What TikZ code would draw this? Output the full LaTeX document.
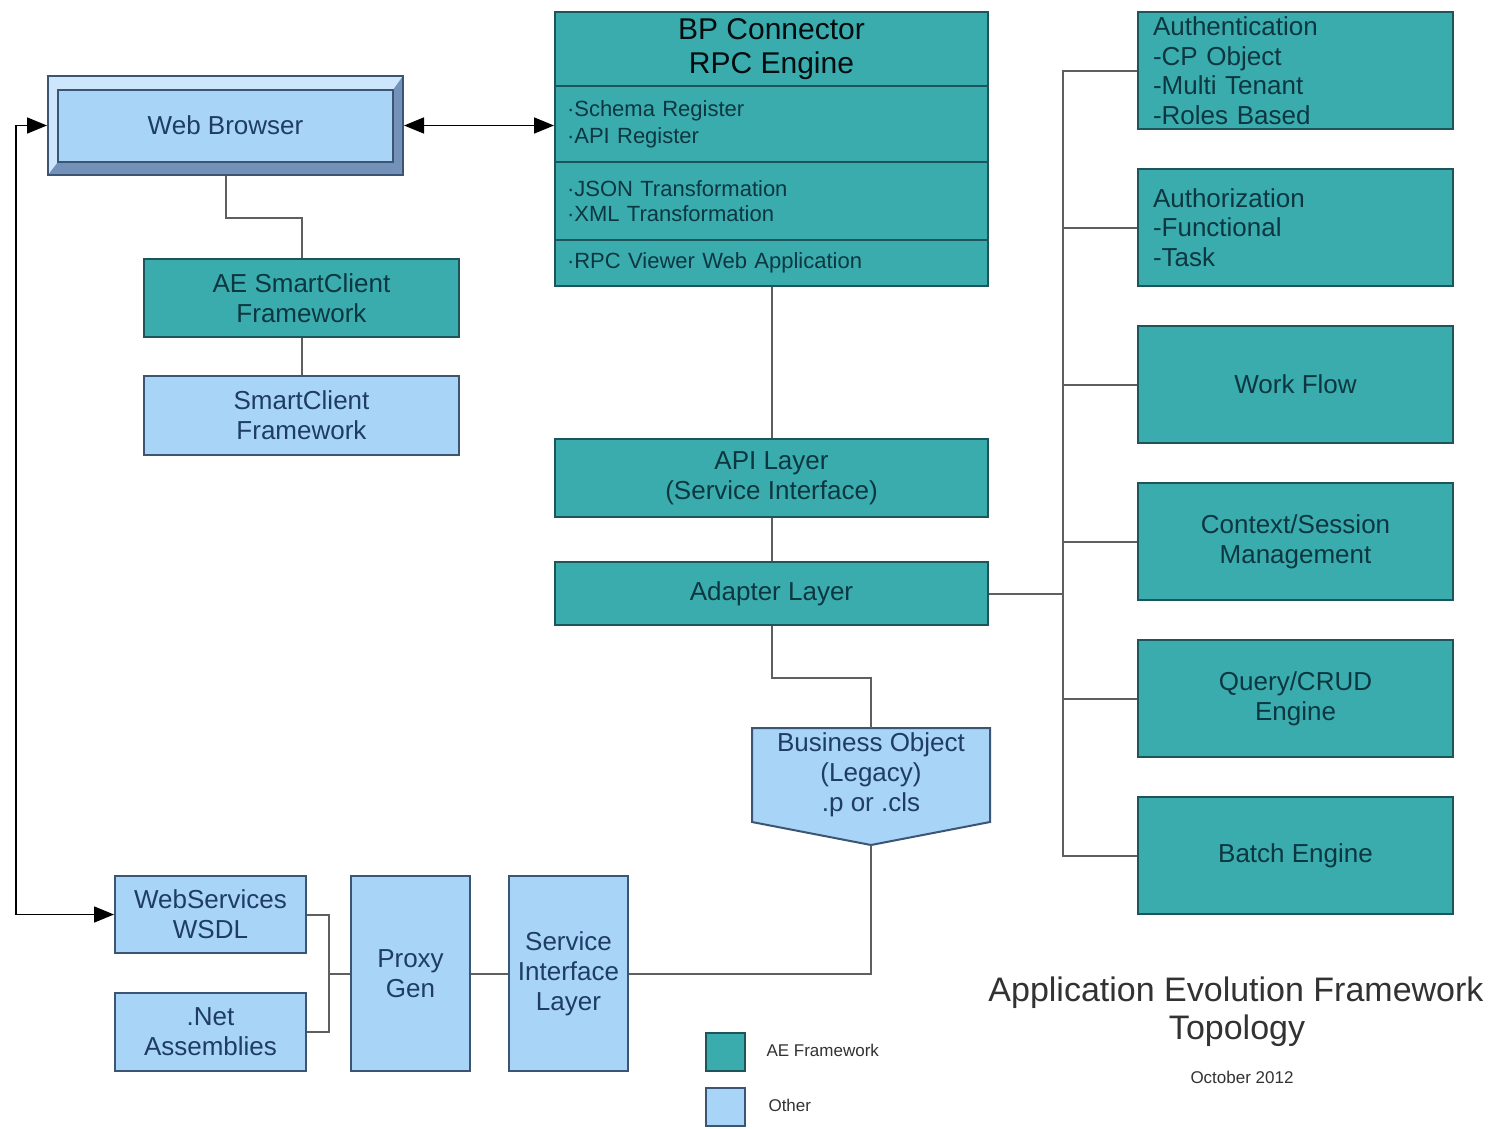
\documentclass[tikz,border=0pt]{standalone}
\usepackage{fontspec}
\setmainfont{Liberation Sans}
\usetikzlibrary{arrows.meta,calc}
\definecolor{tealfill}{RGB}{58,172,174}
\definecolor{tealline}{RGB}{30,85,90}
\definecolor{tealtext}{RGB}{12,55,65}
\definecolor{lbfill}{RGB}{168,212,248}
\definecolor{lbline}{RGB}{60,85,115}
\definecolor{lbtext}{RGB}{30,60,100}
\definecolor{connc}{RGB}{95,95,95}
\definecolor{bevlight}{RGB}{205,230,252}
\definecolor{bevdark}{RGB}{115,145,185}
\definecolor{titletext}{RGB}{50,50,50}
\begin{document}
\begin{tikzpicture}[x=1pt,y=-1pt,
 base/.style={rectangle, line width=2pt, inner sep=0pt, font=\fontsize{26}{30}\selectfont, align=center},
 tealbox/.style={base, draw=tealline, fill=tealfill, text=tealtext},
 lbbox/.style={base, draw=lbline, fill=lbfill, text=lbtext},
 sz/.style 2 args={minimum width=#1pt, minimum height=#2pt},
 leftbox/.style 2 args={inner xsep=#2pt, text width=#1pt-2*#2pt, align=left},
 connl/.style={draw=connc, line width=2pt},
 arr/.style={draw=black, line width=1.6pt, {Triangle[length=20pt,width=16pt]}-{Triangle[length=20pt,width=16pt]}},
 small/.style={font=\fontsize{22}{26}\selectfont},
]
\useasboundingbox (0,0) rectangle (1490,1128);
\fill[white] (0,0) rectangle (1490,1128);

% ---------- Web Browser (bevelled) ----------
\fill[lbfill] (48,76) rectangle (403,175);
\fill[bevlight] (48,76) -- (403,76) -- (393,90) -- (58,90) -- cycle;
\fill[bevlight] (48,76) -- (58,90) -- (58,162) -- (48,175) -- cycle;
\fill[bevdark] (48,175) -- (403,175) -- (393,162) -- (58,162) -- cycle;
\fill[bevdark] (403,76) -- (403,175) -- (393,162) -- (393,90) -- cycle;
\draw[lbline, line width=1.5pt] (48,76) rectangle (403,175);
\draw[lbline, line width=2pt] (58,90) rectangle (393,162);
\node[base, text=lbtext, sz={355}{99}] (webb) at (225.5,125.5) {Web Browser};

% ---------- SmartClient ----------
\node[tealbox, sz={315}{78}] (aesc) at (301.5,298) {AE SmartClient\\Framework};
\node[lbbox, sz={315}{79}] (scf) at (301.5,415.5) {SmartClient\\Framework};

% ---------- BP Connector ----------
\node[tealbox, sz={433}{74}, font=\fontsize{30}{34}\selectfont, text=black!80!tealtext] (bpt) at (771.5,49) {BP Connector\\RPC Engine};
\node[tealbox, sz={433}{76}, small, leftbox={433}{12}, font=\fontsize{22}{27}\selectfont] (bpreg) at (771.5,124) {·Schema Register\\·API Register};
\node[tealbox, sz={433}{78}, small, leftbox={433}{12}, font=\fontsize{22}{25}\selectfont] (bptr) at (771.5,201) {·JSON Transformation\\·XML Transformation};
\node[tealbox, sz={433}{46}, small, leftbox={433}{12}] (bpview) at (771.5,263) {·RPC Viewer Web Application};

% ---------- API / Adapter ----------
\node[tealbox, sz={433}{78}] (api) at (771.5,478) {API Layer\\(Service Interface)};
\node[tealbox, sz={433}{63}] (adapter) at (771.5,593.5) {Adapter Layer};

% ---------- Business Object ----------
\draw[lbline, fill=lbfill, line width=2pt] (752,728) -- (990,728) -- (990,822) -- (871,845) -- (752,822) -- cycle;
\node[base, text=lbtext] (bo) at (871,775) {Business Object\\(Legacy)\\.p or .cls};
\coordinate (botop) at (871,728);
\coordinate (botip) at (871,845);

% ---------- Right column ----------
\node[tealbox, sz={315}{117}, leftbox={315}{15}, font=\fontsize{26}{29.5}\selectfont] (auth) at (1295.5,70.5) {Authentication\\-CP Object\\-Multi Tenant\\-Roles Based};
\node[tealbox, sz={315}{117}, leftbox={315}{15}, font=\fontsize{26}{29.5}\selectfont] (authz) at (1295.5,227.5) {Authorization\\-Functional\\-Task};
\node[tealbox, sz={315}{117}] (wf) at (1295.5,384.5) {Work Flow};
\node[tealbox, sz={315}{117}] (ctx) at (1295.5,541.5) {Context/Session\\Management};
\node[tealbox, sz={315}{117}] (query) at (1295.5,698.5) {Query/CRUD\\Engine};
\node[tealbox, sz={315}{117}] (batch) at (1295.5,855.5) {Batch Engine};
\coordinate (bus) at (1063,70.5);

% ---------- Bottom left ----------
\node[lbbox, sz={191}{77}] (wsdl) at (210.5,914.5) {WebServices\\WSDL};
\node[lbbox, sz={191}{78}] (net) at (210.5,1032) {.Net\\Assemblies};
\node[lbbox, sz={119}{195}] (proxy) at (410.5,973.5) {Proxy\\Gen};
\node[lbbox, sz={119}{195}] (sil) at (568.5,973.5) {Service\\Interface\\Layer};
\coordinate (jn) at (329,973.5);

% ---------- Connectors ----------
\draw[connl] (webb.south) -- ++(0,42) -| (aesc.north);
\draw[connl] (aesc.south) -- (scf.north);
\draw[connl] (bpview.south) -- (api.north);
\draw[connl] (api.south) -- (adapter.north);
\draw[connl] (adapter.south) -- ++(0,52) -| (botop);
\draw[connl] (auth.west) -- (auth.west -| bus) |- (batch.west);
\foreach \b in {authz,wf,ctx,query} \draw[connl] (\b.west) -- (\b.west -| bus);
\draw[connl] (adapter.east) -- (adapter.east -| bus);
\draw[connl] (wsdl.east) -| (jn) |- (net.east);
\draw[connl] (jn) -- (proxy.west);
\draw[connl] (proxy.east) -- (sil.west);
\draw[connl] (sil.east) -| (botip);
\draw[arr] (webb.east) -- (webb.east -| bpreg.west);
\draw[arr] (webb.west) -- ++(-31,0) |- (wsdl.west);

% ---------- Legend ----------
\node[tealbox, sz={39}{38}] (legA) at (725.5,1052) {};
\node[lbbox, sz={39}{38}] (legB) at (725.5,1107) {};
\node[anchor=west, font=\fontsize{17}{20}\selectfont, text=titletext] (legAt) at (763,1050) {AE Framework};
\node[anchor=west, font=\fontsize{17}{20}\selectfont, text=titletext] (legBt) at (765,1105) {Other};

% ---------- Title ----------
\node[font=\fontsize{34}{40}\selectfont, text=titletext] (title1) at (1236,993) {Application Evolution Framework};
\node[font=\fontsize{34}{40}\selectfont, text=titletext] (title2) at (1237,1031) {Topology};
\node[font=\fontsize{17}{20}\selectfont, text=titletext] (date) at (1242,1077) {October 2012};
\end{tikzpicture}
\end{document}
